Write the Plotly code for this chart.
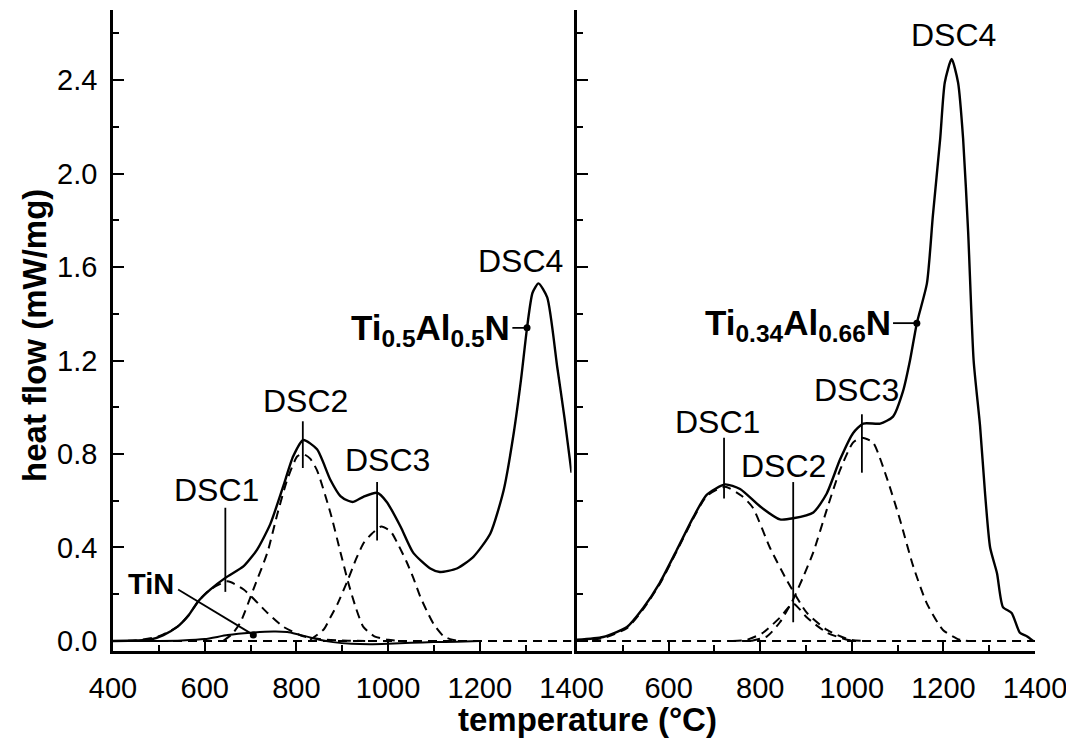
import plotly.graph_objects as go

# ---------------- data: left panel (Ti0.5Al0.5N) ----------------
left_T = [400, 450, 480, 510, 540, 565, 586, 612, 645, 685, 714, 743, 771, 793, 815,
          845, 874, 896, 913, 924, 946, 976, 997, 1027, 1055, 1092, 1113, 1150, 1186,
          1223, 1252, 1274, 1290, 1303, 1315, 1328, 1347, 1369, 1385, 1400]
left_total = [0.0, 0.002, 0.005, 0.025, 0.06, 0.11, 0.17, 0.22, 0.27, 0.32, 0.39, 0.50, 0.66, 0.79, 0.86,
              0.82, 0.69, 0.62, 0.60, 0.595, 0.617, 0.634, 0.595, 0.49, 0.377, 0.31, 0.295, 0.31, 0.36,
              0.46, 0.645, 0.89, 1.12, 1.34, 1.49, 1.53, 1.47, 1.17, 0.95, 0.72]

left_tin_T = [400, 500, 550, 600, 650, 700, 750, 780, 800, 830, 850, 880, 920, 960, 1000, 1050, 1100, 1150, 1200]
left_tin = [0.0, 0.0, 0.002, 0.008, 0.025, 0.035, 0.04, 0.038, 0.03, 0.015, 0.005, -0.005, -0.012,
            -0.014, -0.012, -0.008, -0.005, -0.003, 0.0]

left_dsc1_T = [400, 450, 500, 540, 565, 586, 612, 650, 685, 737, 772, 815, 850, 900, 950]
left_dsc1 = [0.0, 0.002, 0.02, 0.06, 0.11, 0.17, 0.22, 0.255, 0.22, 0.12, 0.06, 0.02, 0.008, 0.002, 0.0]

left_dsc2_T = [640, 660, 678, 706, 737, 758, 780, 802, 815, 830, 845, 874, 896, 913, 930, 946, 970, 1000, 1030]
left_dsc2 = [0.0, 0.03, 0.08, 0.22, 0.38, 0.54, 0.69, 0.79, 0.80, 0.78, 0.73, 0.55, 0.38, 0.25, 0.14, 0.06, 0.02, 0.005, 0.0]

left_dsc3_T = [830, 860, 874, 890, 912, 930, 947, 965, 985, 1005, 1020, 1040, 1055, 1070, 1084, 1100, 1121, 1140, 1160]
left_dsc3 = [0.005, 0.05, 0.10, 0.16, 0.26, 0.35, 0.42, 0.46, 0.49, 0.47, 0.42, 0.34, 0.27, 0.19, 0.13, 0.07, 0.02, 0.005, 0.0]

# ---------------- data: right panel (Ti0.34Al0.66N) ----------------
right_T = [400, 457, 509, 544, 581, 618, 654, 683, 723, 756, 800, 843, 872, 916, 945, 974, 1003,
           1025, 1062, 1090, 1112, 1127, 1142, 1164, 1177, 1193, 1203, 1218, 1232, 1243, 1254,
           1266, 1280, 1291, 1302, 1317, 1330, 1349, 1367, 1382, 1396]
right_total = [0.005, 0.017, 0.06, 0.14, 0.25, 0.39, 0.53, 0.625, 0.67, 0.65, 0.575, 0.52, 0.525, 0.55,
               0.63, 0.775, 0.89, 0.93, 0.93, 0.96, 1.07, 1.2, 1.36, 1.53, 1.82, 2.15, 2.39, 2.49, 2.39,
               2.15, 1.75, 1.2, 0.92, 0.63, 0.40, 0.29, 0.145, 0.12, 0.035, 0.02, 0.0]

right_dsc1_T = [400, 457, 509, 544, 581, 618, 654, 683, 723, 760, 784, 821, 858, 902, 946, 996, 1030]
right_dsc1 = [0.0, 0.012, 0.055, 0.135, 0.245, 0.385, 0.525, 0.62, 0.66, 0.62, 0.57, 0.40, 0.26, 0.12, 0.047, 0.005, 0.0]

right_dsc2_T = [740, 771, 806, 843, 872, 902, 946, 990, 1010]
right_dsc2 = [0.0, 0.005, 0.035, 0.10, 0.16, 0.10, 0.035, 0.005, 0.0]

right_dsc3_T = [780, 815, 843, 870, 893, 916, 945, 974, 1003, 1022, 1046, 1076, 1105, 1134, 1164, 1199, 1236, 1260]
right_dsc3 = [0.0, 0.02, 0.08, 0.17, 0.27, 0.38, 0.56, 0.73, 0.85, 0.87, 0.85, 0.70, 0.52, 0.32, 0.16, 0.047, 0.005, 0.0]

baseline_T = [400, 1400]
baseline_v = [0.0, 0.0]

x_ticks = [400, 600, 800, 1000, 1200, 1400]
x_ticktext_left = ["400", "600", "800", "1000", "1200", "1400"]
x_ticktext_right = ["", "600", "800", "1000", "1200", "1400"]

FONT = "Liberation Sans, Arial, Helvetica, sans-serif"
BLACK = "#000000"

fig = go.Figure()


def solid(x, y, xa, ya, w=2.4):
    fig.add_trace(go.Scatter(x=x, y=y, mode="lines", xaxis=xa, yaxis=ya,
                             line=dict(color=BLACK, width=w, shape="spline", smoothing=0.6),
                             showlegend=False, hoverinfo="skip"))


def dashed(x, y, xa, ya):
    fig.add_trace(go.Scatter(x=x, y=y, mode="lines", xaxis=xa, yaxis=ya,
                             line=dict(color=BLACK, width=2, dash="9px,6px", shape="spline", smoothing=0.6),
                             showlegend=False, hoverinfo="skip"))


def leader(x, y, xa, ya, w=1.8):
    fig.add_trace(go.Scatter(x=x, y=y, mode="lines", xaxis=xa, yaxis=ya,
                             line=dict(color=BLACK, width=w),
                             showlegend=False, hoverinfo="skip"))


def dot(x, y, xa, ya):
    fig.add_trace(go.Scatter(x=[x], y=[y], mode="markers", xaxis=xa, yaxis=ya,
                             marker=dict(color=BLACK, size=7),
                             showlegend=False, hoverinfo="skip"))


# left panel
dashed(baseline_T, baseline_v, "x", "y")
dashed(left_dsc1_T, left_dsc1, "x", "y")
dashed(left_dsc2_T, left_dsc2, "x", "y")
dashed(left_dsc3_T, left_dsc3, "x", "y")
solid(left_tin_T, left_tin, "x", "y", w=2.0)
solid(left_T, left_total, "x", "y")

# right panel
dashed(baseline_T, baseline_v, "x2", "y2")
dashed(right_dsc1_T, right_dsc1, "x2", "y2")
dashed(right_dsc2_T, right_dsc2, "x2", "y2")
dashed(right_dsc3_T, right_dsc3, "x2", "y2")
solid(right_T, right_total, "x2", "y2")

# leader lines
leader([645, 645], [0.21, 0.57], "x", "y")
leader([814, 814], [0.74, 0.94], "x", "y")
leader([976, 976], [0.43, 0.68], "x", "y")
leader([542, 706], [0.22, 0.026], "x", "y")
dot(706, 0.026, "x", "y")
leader([1271, 1303], [1.34, 1.34], "x", "y")
dot(1303, 1.34, "x", "y")

leader([721, 721], [0.61, 0.87], "x2", "y2")
leader([872, 872], [0.08, 0.68], "x2", "y2")
leader([1022, 1022], [0.72, 0.97], "x2", "y2")
leader([1090, 1142], [1.36, 1.36], "x2", "y2")
dot(1142, 1.36, "x2", "y2")


def label(text, x, y, xr, yr, size=32, xanchor="center"):
    fig.add_annotation(text=text, x=x, y=y, xref=xr, yref=yr, showarrow=False,
                       xanchor=xanchor, yanchor="middle",
                       font=dict(family=FONT, size=size, color=BLACK))


label("DSC1", 625, 0.645, "x", "y")
label("DSC2", 819, 1.025, "x", "y")
label("DSC3", 998, 0.775, "x", "y")
label("DSC4", 1288, 1.625, "x", "y")
label("<b>TiN</b>", 483, 0.245, "x", "y", size=29)
label("<b>Ti<sub>0.5</sub>Al<sub>0.5</sub>N</b>", 1271, 1.33, "x", "y", size=35, xanchor="right")

label("DSC1", 706, 0.935, "x2", "y2")
label("DSC2", 850, 0.75, "x2", "y2")
label("DSC3", 1011, 1.075, "x2", "y2")
label("DSC4", 1221, 2.595, "x2", "y2")
label("<b>Ti<sub>0.34</sub>Al<sub>0.66</sub>N</b>", 1090, 1.35, "x2", "y2", size=35, xanchor="right")

# axis titles (paper coords)
fig.add_annotation(text="<b>heat flow (mW/mg)</b>", x=-0.0846, y=0.493, xref="paper", yref="paper",
                   showarrow=False, textangle=-90, xanchor="center", yanchor="middle",
                   font=dict(family=FONT, size=33, color=BLACK))
fig.add_annotation(text="<b>temperature (°C)</b>", x=0.515, y=-0.1076, xref="paper", yref="paper",
                   showarrow=False, xanchor="center", yanchor="middle",
                   font=dict(family=FONT, size=33, color=BLACK))

xcommon = dict(range=[400, 1400], showline=True, linewidth=2.5, linecolor=BLACK, mirror=False,
               ticks="inside", ticklen=11, tickwidth=2, tickcolor=BLACK,
               minor=dict(ticks="inside", ticklen=6, tickwidth=2, tickcolor=BLACK, dtick=100, showgrid=False),
               showgrid=False, zeroline=False, tickvals=x_ticks,
               tickfont=dict(family=FONT, size=29, color=BLACK), ticklabelstandoff=9, automargin=False)
ycommon = dict(range=[-0.043, 2.70], showline=True, linewidth=2.5, linecolor=BLACK, mirror=False,
               ticks="inside", ticklen=11, tickwidth=2, tickcolor=BLACK, tick0=0, dtick=0.4,
               minor=dict(ticks="inside", ticklen=6, tickwidth=2, tickcolor=BLACK, dtick=0.2, showgrid=False),
               showgrid=False, zeroline=False, tickformat=".1f",
               tickfont=dict(family=FONT, size=29, color=BLACK), automargin=False)

# the page body adds an 8px offset; margins are shifted to compensate
fig.update_layout(
    width=1074, height=749,
    margin=dict(l=105, r=47, t=2, b=106),
    paper_bgcolor="white", plot_bgcolor="white",
    showlegend=False,
    xaxis=dict(domain=[0, 0.4973], anchor="y", ticktext=x_ticktext_left, **xcommon),
    xaxis2=dict(domain=[0.5033, 1], anchor="y2", ticktext=x_ticktext_right, **xcommon),
    yaxis=dict(domain=[0, 1], anchor="x", ticklabelstandoff=7, **ycommon),
    yaxis2=dict(domain=[0, 1], anchor="x2", showticklabels=False, **ycommon),
)

fig.write_html("out.html")
